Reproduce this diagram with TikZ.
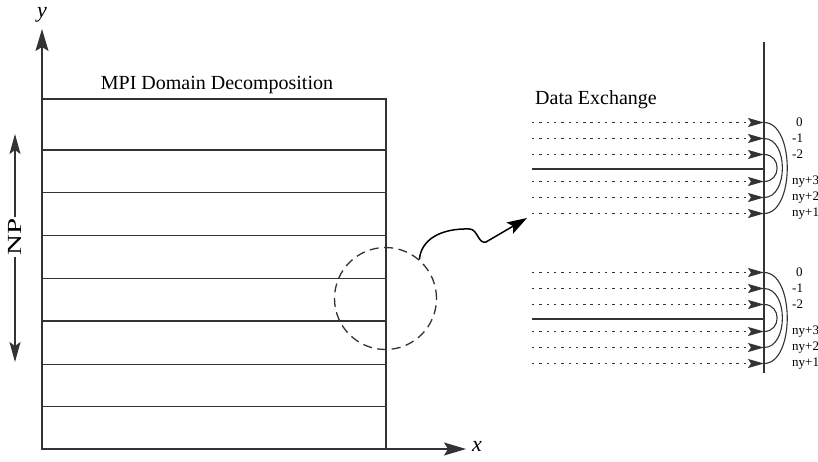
\documentclass[tikz,border=0pt]{standalone}
\usepackage{fontspec}
\setmainfont{Liberation Serif}
\usetikzlibrary{positioning,arrows.meta,calc}
\definecolor{linegray}{HTML}{333333}

\begin{document}
\begin{tikzpicture}[x=1pt,y=-1pt,
 edge/.style={linegray,line width=1.1pt},
 axis/.style={-{Stealth[length=22pt,width=13pt,inset=4pt]},linegray,line width=1.2pt},
 np/.style={-{Stealth[length=20pt,width=11pt,inset=4pt]},linegray,line width=1.2pt},
 ghost/.style={-{Stealth[length=16pt,width=9pt,inset=3pt]},linegray,line width=1.4pt,dash pattern=on 2.4pt off 4.9pt},
 halo/.style={linegray,line width=1.1pt},
 title/.style={font=\fontsize{20}{24}\selectfont},
 lab/.style={font=\fontsize{13}{15}\selectfont,anchor=west,inner sep=0pt}]
\useasboundingbox (0,0) rectangle (818,461);
\clip (0,0) rectangle (818,461);
% domain and axes
\coordinate (O) at (42,449);
\coordinate (ytip) at (42,29);
\coordinate (xend) at (386,449);
\coordinate (xtip) at (466,449);
\draw[edge] (42,99) rectangle (xend);
\foreach \y in {150,192.7,235.7,278.3,321,364.3,406.7}{
  \draw[edge] (42,\y) -- (386,\y);}
\draw[axis] (O) -- (ytip);
\draw[axis] (xend) -- (xtip);
\node[font=\fontsize{22}{24}\selectfont\itshape] (ylab) at (42,15) {y};
\node[font=\fontsize{22}{24}\selectfont\itshape] (xlab) at (477,446) {x};
\node[title] (mpi) at (217,85) {MPI Domain Decomposition};
% processor count
\node[title,rotate=90,inner sep=1pt] (np) at (15,237) {\scalebox{1.45}[1]{NP}};
\coordinate (nptop) at (15,134);
\coordinate (npbot) at (15,362);
\draw[np] (np) -- (nptop);
\draw[np] (np) -- (npbot);
% zoom
\node[draw=linegray,line width=1.3pt,dash pattern=on 9pt off 5.5pt,circle,minimum size=102pt,inner sep=0pt] (zoom) at (385.5,298.5) {};
\coordinate (dxin) at (527,218);
\draw[-{Stealth[length=20pt,width=13pt,inset=4pt]},black,line width=1.5pt]
 (zoom.49) .. controls (421,240) and (440,228) .. (470,229)
 .. controls (478,230) and (478,244) .. (486,242) -- (dxin);
% data exchange
\node[title] (dex) at (596,100) {Data Exchange};
\coordinate (wtop) at (764,42);
\coordinate (wbot) at (764,373);
\draw[linegray,line width=2.2pt] (wtop) -- (wbot);
\foreach \g in {0,150}{
  \foreach \r/\t/\dx [count=\k] in {122.5/0/4,138.5/-1/0,154.5/-2/0,181.5/ny+3/0,197.5/ny+2/0,213.5/ny+1/0}{
    \coordinate (s\k) at (532,{\r+\g});
    \coordinate (e\k) at (764,{\r+\g});
    \draw[ghost] (s\k) -- (e\k);
    \node[lab] (l\k) at ({792+\dx},{\r+\g}) {\t};
  }
  \coordinate (gs) at (532,{169+\g});
  \coordinate (ge) at (764,{169+\g});
  \draw[edge,line width=1.6pt] (gs) -- (ge);
  \draw[halo] (e1) .. controls ++(31,0) and ++(31,0) .. (e6);
  \draw[halo] (e2) .. controls ++(24.5,0) and ++(24.5,0) .. (e5);
  \draw[halo] (e3) .. controls ++(17.5,0) and ++(17.5,0) .. (e4);
}
\end{tikzpicture}
\end{document}
